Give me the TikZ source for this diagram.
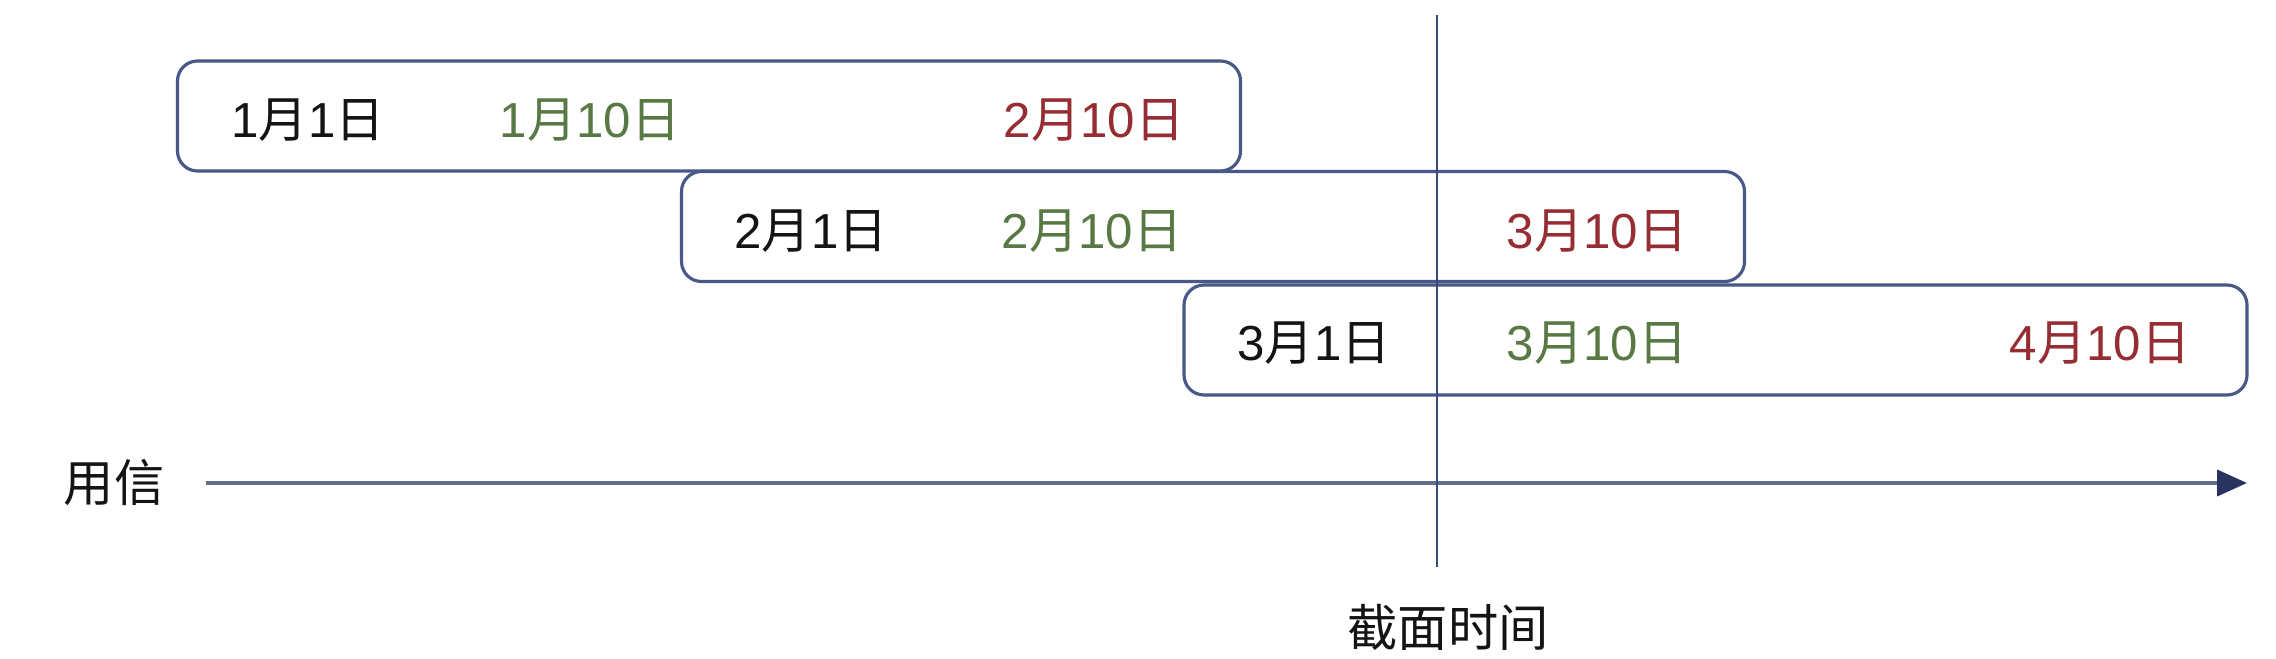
\documentclass[tikz,border=0pt]{standalone}
\usepackage{fontspec}
\setmainfont{Liberation Sans}
\newfontfamily\cjk{Noto Sans CJK SC}
\newfontfamily\cjkl{Noto Sans CJK SC Light}
\usetikzlibrary{arrows.meta}
\definecolor{boxc}{RGB}{72,88,135}
\definecolor{axisc}{RGB}{100,110,140}
\definecolor{tipc}{RGB}{40,52,95}
\definecolor{vlinec}{RGB}{60,75,125}
\definecolor{gtext}{RGB}{88,120,68}
\definecolor{rtext}{RGB}{150,45,50}
\definecolor{ktext}{RGB}{20,20,20}
\newcommand\dmy[2]{#1{\cjk 月}#2{\cjk 日}}
\tikzset{
  period/.style={draw=boxc, line width=0.9pt, rounded corners=0.2cm, fill=white,
    minimum width=10.63cm, minimum height=1.10cm, inner sep=0pt},
  datelbl/.style={font=\fontsize{14pt}{16pt}\selectfont, inner sep=0pt},
  startd/.style={datelbl, text=ktext},
  reconc/.style={datelbl, text=gtext},
  dued/.style={datelbl, text=rtext},
  cjklbl/.style={font=\cjk\fontsize{14.3pt}{16pt}\selectfont, text=ktext, inner sep=0pt}
}
\begin{document}
\begin{tikzpicture}
\useasboundingbox (0,0) rectangle (22.76,-6.58);
% axis
\node[cjklbl] (yx) at (1.14,-4.83) {用信};
\coordinate (axs) at (2.06,-4.83);
\coordinate (axe) at (22.47,-4.83);
\draw[axisc, line width=1.1pt, -{Triangle[length=0.3cm,width=0.26cm,color=tipc]}] (axs) -- (axe);
% periods
\node[period] (b1) at (7.09,-1.16) {};
\node[period] (b2) at (12.13,-2.265) {};
\node[period] (b3) at (17.155,-3.40) {};
% vertical cut line
\coordinate (vt) at (14.37,-0.15);
\coordinate (vb) at (14.37,-5.67);
\draw[vlinec, line width=0.7pt] (vt) -- (vb);
\node[cjklbl] (jm) at (14.48,-6.27) {截面时间};
% labels
\node[startd] (s1) at (3.08,-1.20) {\dmy{1}{1}};
\node[reconc] (r1) at (5.90,-1.20) {\dmy{1}{10}};
\node[dued]   (d1) at (10.94,-1.20) {\dmy{2}{10}};
\node[startd] (s2) at (8.11,-2.31) {\dmy{2}{1}};
\node[reconc] (r2) at (10.92,-2.31) {\dmy{2}{10}};
\node[dued]   (d2) at (15.97,-2.31) {\dmy{3}{10}};
\node[startd] (s3) at (13.14,-3.43) {\dmy{3}{1}};
\node[reconc] (r3) at (15.97,-3.43) {\dmy{3}{10}};
\node[dued]   (d3) at (21.00,-3.43) {\dmy{4}{10}};
\end{tikzpicture}
\end{document}
